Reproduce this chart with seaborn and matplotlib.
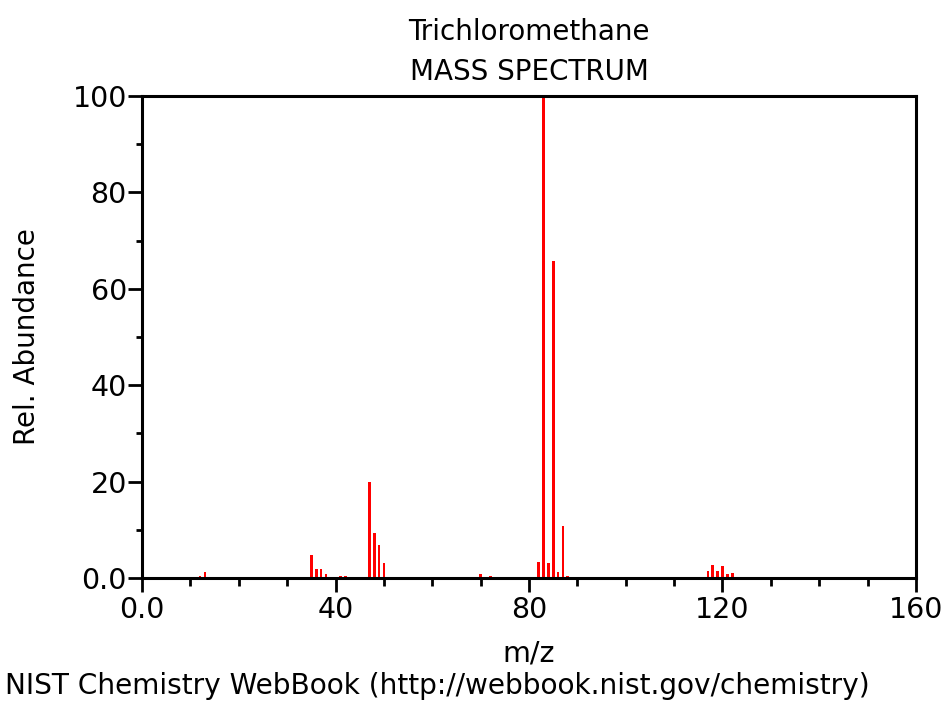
import matplotlib
matplotlib.use("Agg")
import matplotlib.pyplot as plt
from matplotlib.ticker import MultipleLocator, FixedLocator
import seaborn as sns
import pandas as pd

# Electron-ionization mass spectrum of chloroform (CHCl3)
mz = [12, 13, 35, 36, 37, 38, 41, 42, 44, 47, 48, 49, 50, 70, 72,
      82, 83, 84, 85, 86, 87, 88, 117, 118, 119, 120, 121, 122]
abundance = [0.4, 1.2, 4.8, 1.9, 1.9, 0.8, 0.4, 0.4, 0.2, 19.9, 9.3, 6.8, 3.1, 0.8, 0.4,
             3.3, 100.0, 3.1, 65.7, 1.2, 10.8, 0.4, 1.4, 2.7, 1.4, 2.5, 0.8, 1.0]

x_major = [0, 40, 80, 120, 160]
x_major_labels = ["0.0", "40", "80", "120", "160"]
y_major = [0, 20, 40, 60, 80, 100]
y_major_labels = ["0.0", "20", "40", "60", "80", "100"]

compound = "Trichloromethane"
subtitle = "MASS SPECTRUM"
source = "NIST Chemistry WebBook (http://webbook.nist.gov/chemistry)"

sns.set_theme(style="white")
plt.rcParams["font.family"] = ["DejaVu Sans"]

df = pd.DataFrame({"m/z": mz, "abundance": abundance})

fig = plt.figure(figsize=(9.45, 7.02), dpi=100)
ax = fig.add_axes([0.1503, 0.1766, 0.819, 0.6866])

sns.barplot(data=df, x="m/z", y="abundance", native_scale=True, color="#ff0000",
            saturation=1, width=0.55, errorbar=None, linewidth=0, ax=ax)

ax.set_xlim(0, 160)
ax.set_ylim(0, 100)

ax.xaxis.set_major_locator(FixedLocator(x_major))
ax.set_xticklabels(x_major_labels)
ax.xaxis.set_minor_locator(MultipleLocator(10))
ax.yaxis.set_major_locator(FixedLocator(y_major))
ax.set_yticklabels(y_major_labels)
ax.yaxis.set_minor_locator(MultipleLocator(10))

ax.tick_params(axis="both", which="major", direction="out", length=10, width=2,
               labelsize=20.5, color="black", labelcolor="black")
ax.tick_params(axis="x", which="major", pad=3)
ax.tick_params(axis="y", which="major", pad=1)
ax.tick_params(axis="x", which="minor", direction="out", length=6, width=2, color="black")
ax.tick_params(axis="y", which="minor", direction="out", length=4, width=2, color="black")
ax.tick_params(bottom=True, left=True, which="both")

for side in ["left", "right", "top", "bottom"]:
    ax.spines[side].set_visible(True)
    ax.spines[side].set_color("black")
    ax.spines[side].set_linewidth(2.2)

ax.set_xlabel("m/z", fontsize=20.5, color="black")
ax.xaxis.set_label_coords(0.5, -0.128)
ax.set_ylabel("Rel. Abundance", fontsize=20, color="black")
ax.yaxis.set_label_coords(-0.131, 0.5)

fig.text(0.56, 0.943, compound, ha="center", va="baseline", fontsize=20, color="black")
fig.text(0.56, 0.886, subtitle, ha="center", va="baseline", fontsize=20, color="black")
fig.text(0.005, 0.012, source, ha="left", va="baseline", fontsize=20.2, color="black")

fig.savefig("out.png", dpi=100, facecolor="white")
